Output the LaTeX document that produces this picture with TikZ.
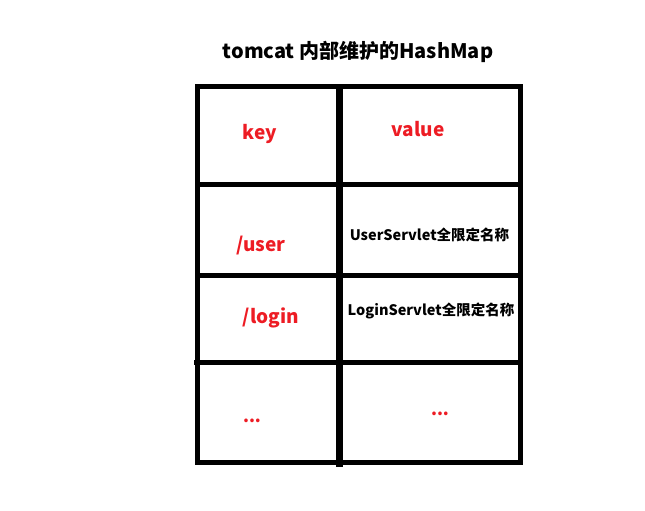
\documentclass[tikz,border=0pt]{standalone}
\usepackage{fontspec}
\newfontfamily\cjk{Noto Sans CJK SC}
\definecolor{myred}{RGB}{237,28,36}
\tikzset{
  gridline/.style={line width=5pt, black},
  midline/.style={line width=6.5pt, black},
  title/.style={font=\cjk\bfseries\fontsize{20}{24}\selectfont, anchor=base},
  keytxt/.style={font=\cjk\bfseries\fontsize{19}{23}\selectfont, text=myred, anchor=base, inner sep=0pt},
  valtxt/.style={font=\cjk\bfseries\fontsize{14.5}{17}\selectfont, text=black, anchor=base, inner sep=0pt},
  dots/.style={font=\cjk\bfseries\fontsize{17}{20}\selectfont, text=myred, anchor=base, inner sep=0pt},
}
\begin{document}
\begin{tikzpicture}[x=1pt,y=-1pt]
\useasboundingbox (0,0) rectangle (645,511);
% table lines
\draw[gridline] (197.5,86.5) rectangle (520.5,462);
\draw[gridline] (197.5,184.5) -- (520.5,184.5);
\draw[gridline] (197.5,275.7) -- (520.5,275.7);
\draw[gridline] (194,362.3) -- (520.5,362.3);
\draw[midline] (339.5,86.5) -- (339.5,466.5);
% texts
\node[title] (ttl) at (358,59) {tomcat 内部维护的HashMap};
\node[keytxt] (k) at (260,139) {key};
\node[keytxt] (v) at (418,136) {value};
\node[keytxt] (k1) at (261,251.5) {/user};
\node[valtxt] (v1) at (429.5,240.5) {UserServlet全限定名称};
\node[keytxt] (k2) at (271,323) {/login};
\node[valtxt] (v2) at (431,315.5) {LoginServlet全限定名称};
\node[dots] (k3) at (252,422) {...};
\node[dots] (v3) at (440,415) {...};
\end{tikzpicture}
\end{document}
